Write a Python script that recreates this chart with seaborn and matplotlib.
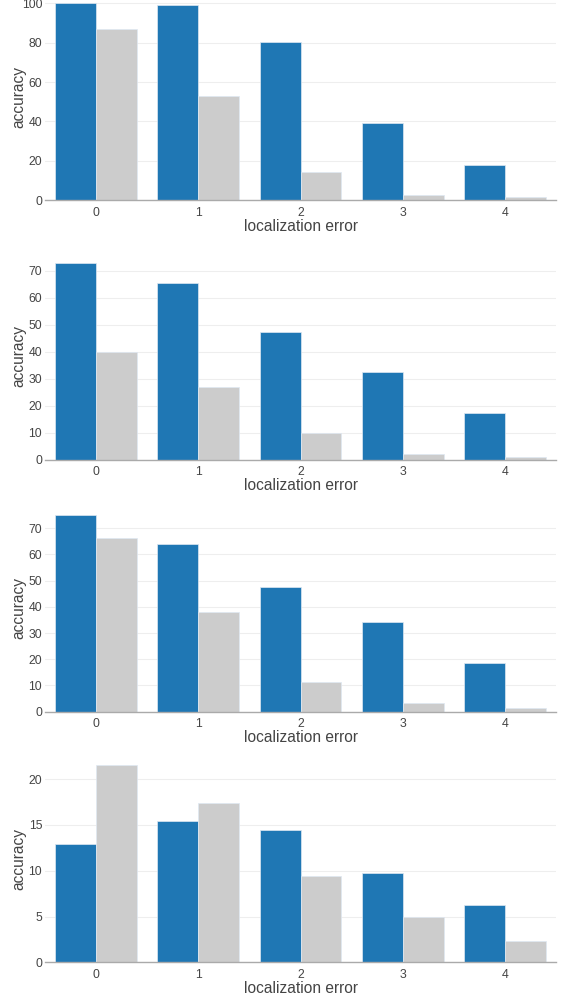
import matplotlib
matplotlib.use("Agg")
import matplotlib.pyplot as plt
import seaborn as sns
import pandas as pd

errors = ["0", "1", "2", "3", "4"]
series_names = ["ours", "baseline"]

panel1_blue = [100.0, 99.2, 80.3, 39.3, 17.8]
panel1_gray = [87.1, 52.9, 14.4, 2.7, 1.9]
panel2_blue = [73.0, 65.3, 47.2, 32.5, 17.2]
panel2_gray = [40.0, 26.8, 9.9, 2.1, 1.0]
panel3_blue = [75.2, 64.0, 47.7, 34.2, 18.6]
panel3_gray = [66.4, 38.1, 11.3, 3.3, 1.4]
panel4_blue = [12.9, 15.4, 14.4, 9.8, 6.3]
panel4_gray = [21.5, 17.4, 9.4, 4.9, 2.3]

panels = [
    (panel1_blue, panel1_gray, [0, 20, 40, 60, 80, 100], 105.0),
    (panel2_blue, panel2_gray, [0, 10, 20, 30, 40, 50, 60, 70], 76.7),
    (panel3_blue, panel3_gray, [0, 10, 20, 30, 40, 50, 60, 70], 79.0),
    (panel4_blue, panel4_gray, [0, 5, 10, 15, 20], 22.6),
]
bottoms_px = [200.3, 459.7, 711.7, 962.3]

sns.set_style("white")
plt.rcParams["font.family"] = ["Liberation Sans", "DejaVu Sans"]

W, H = 563, 997
fig = plt.figure(figsize=(W / 100, H / 100), dpi=100)
palette = {"ours": "#1f77b4", "baseline": "#cccccc"}
text_col = "#444444"

for (blue, gray, yticks, ymax), bpx in zip(panels, bottoms_px):
    ax = fig.add_axes([45 / W, 1 - bpx / H, 511 / W, 207 / H])
    df = pd.DataFrame({
        "localization error": errors * 2,
        "accuracy": blue + gray,
        "series": [series_names[0]] * 5 + [series_names[1]] * 5,
    })
    sns.barplot(data=df, x="localization error", y="accuracy", hue="series",
                palette=palette, saturation=1, width=0.8, ax=ax, legend=False,
                edgecolor="#dfe8f2", linewidth=0.5, zorder=3)
    ax.set_xlim(-0.5, 4.5)
    ax.set_ylim(0, ymax)
    ax.set_yticks(yticks)
    ax.yaxis.grid(True, color="#eeeeee", linewidth=0.8, zorder=0)
    ax.set_axisbelow(True)
    for s in ["top", "right", "left"]:
        ax.spines[s].set_visible(False)
    ax.spines["bottom"].set_color("#aaaaaa")
    ax.spines["bottom"].set_linewidth(1.0)
    ax.spines["bottom"].set_zorder(4)
    ax.tick_params(axis="both", length=0, labelsize=8.8, colors=text_col)
    ax.tick_params(axis="x", pad=4.5)
    ax.tick_params(axis="y", pad=2)
    ax.set_xlabel("localization error", fontsize=11.2, color=text_col, labelpad=0)
    ax.set_ylabel("accuracy", fontsize=11.2, color=text_col)
    ax.yaxis.set_label_coords(-0.037, 0.5)
    ax.patch.set_alpha(0)

fig.savefig("out.png", dpi=100)
